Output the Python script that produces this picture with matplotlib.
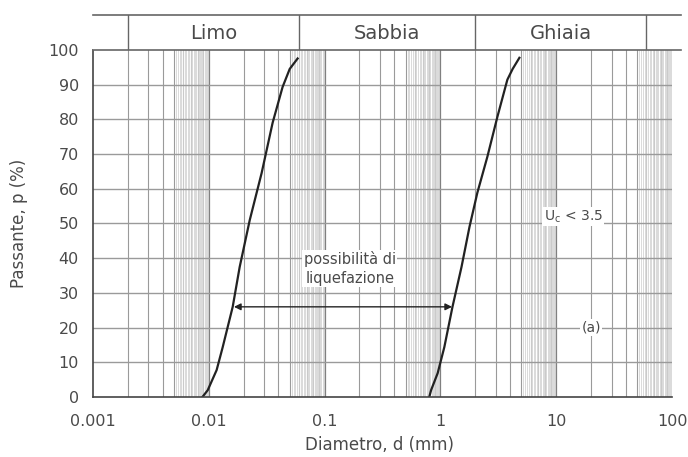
import numpy as np
import matplotlib
matplotlib.use("Agg")
import matplotlib.pyplot as plt

plt.rcParams['font.family'] = ['DejaVu Sans']

# grading curves: diameter (mm) and passing (%)
left_d = [0.0088, 0.0098, 0.0117, 0.0132, 0.0161, 0.0185, 0.0226, 0.0286, 0.0356, 0.0434, 0.0500, 0.0585]
left_p = [0, 2, 7.8, 14.4, 26, 37.5, 51, 64.5, 79, 89.3, 94.5, 97.5]
right_d = [0.80, 0.83, 0.946, 1.08, 1.27, 1.52, 1.78, 2.08, 2.54, 3.1, 3.78, 4.2, 4.8]
right_p = [0, 2, 6.9, 14.4, 26, 37.5, 49, 58.8, 69.2, 80.7, 91.4, 94.5, 97.7]

# soil class boundaries (mm) and names for the top strip
bounds = [0.002, 0.06, 2, 60]
classes = ["Limo", "Sabbia", "Ghiaia"]

x_ticks = [0.001, 0.01, 0.1, 1, 10, 100]
x_labels = ["0.001", "0.01", "0.1", "1", "10", "100"]
y_ticks = list(range(0, 101, 10))

arrow_p = 26
arrow_d = (0.0165, 1.26)

txt = "#4a4a4a"
fig = plt.figure(figsize=(6.88, 4.57), dpi=100)
ax_l, ax_w = 0.135, 0.842
ax = fig.add_axes([ax_l, 0.131, ax_w, 0.760])
ax.set_xscale("log")
ax.set_xlim(0.001, 100)
ax.set_ylim(0, 100)

# grid: major, minor and the dense fine lines near the end of each decade
for k in range(-3, 2):
    base = 10.0 ** k
    for m in range(2, 10):
        ax.axvline(m * base, color="#9a9a9a", lw=0.8, zorder=0)
    for f in np.arange(5.2, 10, 0.2):
        ax.axvline(f * base, color="#d4d4d4", lw=0.6, zorder=0)
for xt in x_ticks[1:-1]:
    ax.axvline(xt, color="#808080", lw=0.9, zorder=0)
for yt in y_ticks[1:-1]:
    ax.axhline(yt, color="#9a9a9a", lw=1.0, zorder=0)

ax.plot(left_d, left_p, color="#222222", lw=1.6)
ax.plot(right_d, right_p, color="#222222", lw=1.6)

ax.annotate("", xy=(arrow_d[0], arrow_p), xytext=(arrow_d[1], arrow_p),
            arrowprops=dict(arrowstyle="<|-|>", color="#222222", lw=1.0,
                            mutation_scale=10, shrinkA=0, shrinkB=0))
ax.text(0.165, 37, "possibilità di\nliquefazione", ha="center", va="center",
        fontsize=10.5, color=txt, linespacing=1.3,
        bbox=dict(fc="white", ec="none", pad=1))
ax.text(14, 52, r"U$_\mathrm{c}$ < 3.5", ha="center", va="center",
        fontsize=10, color=txt, bbox=dict(fc="white", ec="none", pad=1))
ax.text(20, 20, "(a)", ha="center", va="center", fontsize=10, color=txt,
        bbox=dict(fc="white", ec="none", pad=1))

ax.set_xticks(x_ticks)
ax.set_xticklabels(x_labels)
ax.set_yticks(y_ticks)
ax.minorticks_off()
ax.tick_params(axis="both", which="both", length=0, labelsize=11.5,
               labelcolor=txt)
ax.tick_params(axis="x", pad=12)
ax.tick_params(axis="y", pad=10)
ax.set_xlabel("Diametro, d (mm)", fontsize=12, color=txt)
ax.set_ylabel("Passante, p (%)", fontsize=12, color=txt)
ax.xaxis.label.set_va("center")
ax.yaxis.label.set_va("center")
ax.xaxis.set_label_coords(0.495, -0.138)
ax.yaxis.set_label_coords(-0.128, 0.5)
for s in ["top", "right"]:
    ax.spines[s].set_visible(False)
for s in ["left", "bottom"]:
    ax.spines[s].set_color("#444444")
    ax.spines[s].set_linewidth(1.2)

# top strip with the soil classes, same log scale as the main axes
top_w = 0.855
top = fig.add_axes([ax_l, 0.891, top_w, 0.076])
top.set_xscale("log")
top.set_xlim(0.001, 10 ** (-3 + 5 * top_w / ax_w))
top.set_ylim(0, 1)
top.set_xticks([])
top.set_yticks([])
top.minorticks_off()
for s in ["left", "right"]:
    top.spines[s].set_visible(False)
for s in ["top", "bottom"]:
    top.spines[s].set_color("#666666")
    top.spines[s].set_linewidth(1.2)
for b in bounds:
    top.axvline(b, color="#666666", lw=1.0)
for i, name in enumerate(classes):
    xc = np.sqrt(bounds[i] * bounds[i + 1])
    top.text(xc, 0.48, name, ha="center", va="center", fontsize=14, color=txt)

fig.savefig("out.png", dpi=100)
